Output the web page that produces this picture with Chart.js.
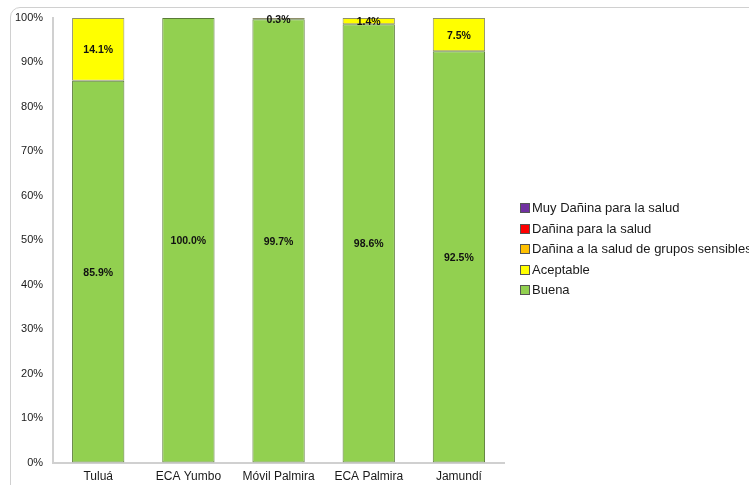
<!DOCTYPE html>
<html>
<head>
<meta charset="utf-8">
<script src="https://cdn.jsdelivr.net/npm/chart.js@4.4.1/dist/chart.umd.min.js"></script>
<style>
  html, body { margin: 0; padding: 0; background: #fff; overflow: hidden; }
  #wrap { position: relative; width: 749px; height: 485px; overflow: hidden; }
  #frame { position: absolute; left: 10px; top: 7px; width: 760px; height: 500px;
           border: 1px solid #d0d0d0; border-radius: 10px; box-sizing: border-box; }
  canvas { position: absolute; left: 0; top: 0; }
  #legend { position: absolute; left: 520px; top: 200px; margin: 0; padding: 0; list-style: none;
            font: 13px 'Liberation Sans', Arial, sans-serif; color: #1a1a1a; white-space: nowrap; }
  #legend li { height: 20.5px; line-height: 16px; }
  #legend span { display: inline-block; width: 8px; height: 8px; border: 1px solid #555;
                 margin-right: 2px; vertical-align: -1px; }
</style>
</head>
<body>
<div id="wrap">
  <div id="frame"></div>
  <canvas id="chartCanvas" width="749" height="493"></canvas>
  <ul id="legend"></ul>
</div>
<script>
const stations = ["Tuluá", "ECA Yumbo", "Móvil Palmira", "ECA Palmira", "Jamundí"];
const buena = [85.9, 100.0, 99.7, 98.6, 92.5];
const aceptable = [14.1, 0, 0.3, 1.4, 7.5];
const danGrupos = [0, 0, 0, 0, 0];
const danina = [0, 0, 0, 0, 0];
const muyDanina = [0, 0, 0, 0, 0];

// draws the percentage inside each non-empty segment
const segmentLabels = {
    id: "segmentLabels",
    afterDatasetsDraw(chart) {
        const ctx = chart.ctx;
        ctx.save();
        ctx.font = "bold 10.5px 'Liberation Sans', Arial, sans-serif";
        ctx.fillStyle = "#111";
        ctx.textAlign = "center";
        ctx.textBaseline = "middle";
        chart.data.datasets.forEach((ds, i) => {
            const meta = chart.getDatasetMeta(i);
            meta.data.forEach((bar, j) => {
                const v = ds.data[j];
                if (!v) return;
                ctx.fillText(v.toFixed(1) + "%", bar.x, (bar.y + bar.base) / 2 + 1);
            });
        });
        ctx.restore();
    },
};

const seg = (label, data, color, border) => ({
    label: label,
    data: data,
    backgroundColor: color,
    borderColor: border,
    borderWidth: (c) => (c.raw > 0 ? 1 : 0),
    borderSkipped: false,
    categoryPercentage: 1,
    barPercentage: 0.58,
});

const chart = new Chart(document.getElementById("chartCanvas").getContext("2d"), {
    type: "bar",
    data: {
        labels: stations,
        datasets: [
            seg("Buena", buena, "#92D050", "#5A7A38"),
            seg("Aceptable", aceptable, "#FFFF00", "#8F8F6A"),
            seg("Dañina a la salud de grupos sensibles", danGrupos, "#FFC000", "#7f7f7f"),
            seg("Dañina para la salud", danina, "#FF0000", "#7f7f7f"),
            seg("Muy Dañina para la salud", muyDanina, "#7030A0", "#7f7f7f"),
        ],
    },
    options: {
        responsive: false,
        animation: false,
        layout: { padding: { left: 5, top: 18, bottom: 2, right: 245 } },
        plugins: {
            tooltip: { enabled: false },
            legend: { display: false },
        },
        scales: {
            x: {
                stacked: true,
                grid: { display: false, drawTicks: false },
                border: { color: "#d0d0d0", width: 2 },
                ticks: {
                    color: "#1a1a1a",
                    padding: 7,
                    font: { family: "'Liberation Sans', Arial, sans-serif", size: 12 },
                },
            },
            y: {
                stacked: true,
                min: 0,
                max: 100,
                grid: { display: false, drawTicks: false },
                border: { color: "#d0d0d0", width: 2 },
                ticks: {
                    stepSize: 10,
                    color: "#1a1a1a",
                    padding: 10,
                    callback: (v) => v + "%",
                    font: { family: "'Liberation Sans', Arial, sans-serif", size: 11 },
                },
            },
        },
    },
    plugins: [segmentLabels],
});

// legend, top to bottom in reverse stacking order
const legend = document.getElementById("legend");
chart.data.datasets.slice().reverse().forEach((ds) => {
    const li = document.createElement("li");
    const box = document.createElement("span");
    box.style.background = ds.backgroundColor;
    li.appendChild(box);
    li.appendChild(document.createTextNode(ds.label));
    legend.appendChild(li);
});
</script>
</body>
</html>
